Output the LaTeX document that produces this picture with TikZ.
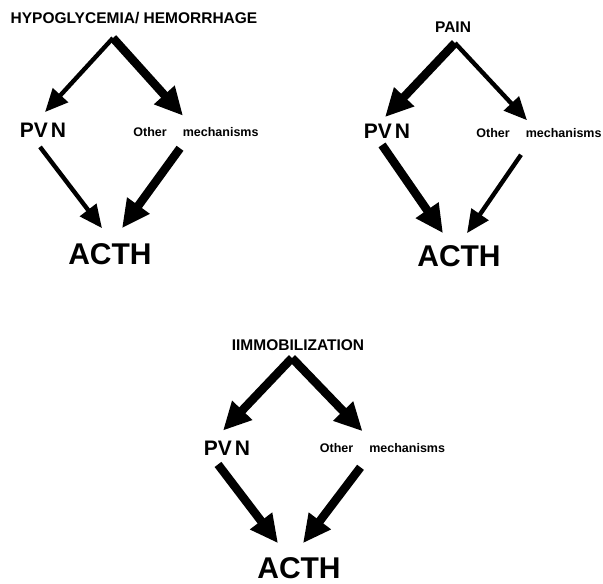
\documentclass[tikz,border=0pt]{standalone}
\usepackage{fontspec}
\setmainfont{Liberation Sans}
\usetikzlibrary{arrows.meta}

\begin{document}
\begin{tikzpicture}[x=1pt, y=-1pt,
    stimulus/.style={inner sep=0pt, font=\fontsize{15.5}{17}\selectfont\bfseries},
    nucleus/.style={inner sep=0pt, font=\fontsize{21}{24}\selectfont\bfseries},
    other/.style={inner sep=0pt, font=\fontsize{12.5}{14}\selectfont\bfseries},
    hormone/.style={inner sep=0pt, font=\fontsize{30}{34}\selectfont\bfseries},
    minor/.style={line width=4.4pt, -{Triangle[length=23pt,width=20pt]}},
    major/.style={line width=8.5pt, -{Triangle[length=28pt,width=26pt]}}
]
  \useasboundingbox (0,0) rectangle (603,584);

  \node[stimulus] (hyp) at (134,18.5) {HYPOGLYCEMIA/ HEMORRHAGE};
  \coordinate (top1) at (113,38);
  \node[nucleus] (pvn1) at (43,130.5) {PV\kern3pt N};
  \node[other] (oth1) at (196,132.5) {Other\hspace*{16pt}mechanisms};
  \node[hormone] (acth1) at (110,254) {ACTH};
  \draw[minor] (top1) -- ([shift={(2pt,11pt)}]pvn1.north);
  \draw[major] (top1) -- ([shift={(-13pt,12pt)}]oth1.north);
  \draw[minor] ([shift={(-3pt,-9pt)}]pvn1.south) -- ([shift={(-8pt,15pt)}]acth1.north);
  \draw[major] ([shift={(-16pt,-11pt)}]oth1.south) -- ([shift={(12pt,15pt)}]acth1.north);

  \node[stimulus] (pain) at (453,27) {PAIN};
  \coordinate (top2) at (455,43);
  \node[nucleus] (pvn2) at (387,131.5) {PV\kern3pt N};
  \node[other] (oth2) at (539,133) {Other\hspace*{16pt}mechanisms};
  \node[hormone] (acth2) at (459,256) {ACTH};
  \draw[major] (top2) -- ([shift={(-2pt,7pt)}]pvn2.north);
  \draw[minor] (top2) -- ([shift={(-12pt,8pt)}]oth2.north);
  \draw[major] ([shift={(-5pt,-6pt)}]pvn2.south) -- ([shift={(-16pt,12pt)}]acth2.north);
  \draw[minor] ([shift={(-18pt,-17pt)}]oth2.south) -- ([shift={(8pt,12pt)}]acth2.north);

  \node[stimulus] (imm) at (298,345) {IIMMOBILIZATION};
  \coordinate (top3) at (292,358);
  \node[nucleus] (pvn3) at (227,448) {PV\kern3pt N};
  \node[other] (oth3) at (382.5,448) {Other\hspace*{16pt}mechanisms};
  \node[hormone] (acth3) at (299,568) {ACTH};
  \draw[major] (top3) -- ([shift={(-4pt,10pt)}]pvn3.north);
  \draw[major] (top3) -- ([shift={(-20pt,12pt)}]oth3.north);
  \draw[major] ([shift={(-9pt,-9pt)}]pvn3.south) -- ([shift={(-21pt,14pt)}]acth3.north);
  \draw[major] ([shift={(-22pt,-14.5pt)}]oth3.south) -- ([shift={(4pt,14pt)}]acth3.north);
\end{tikzpicture}
\end{document}
